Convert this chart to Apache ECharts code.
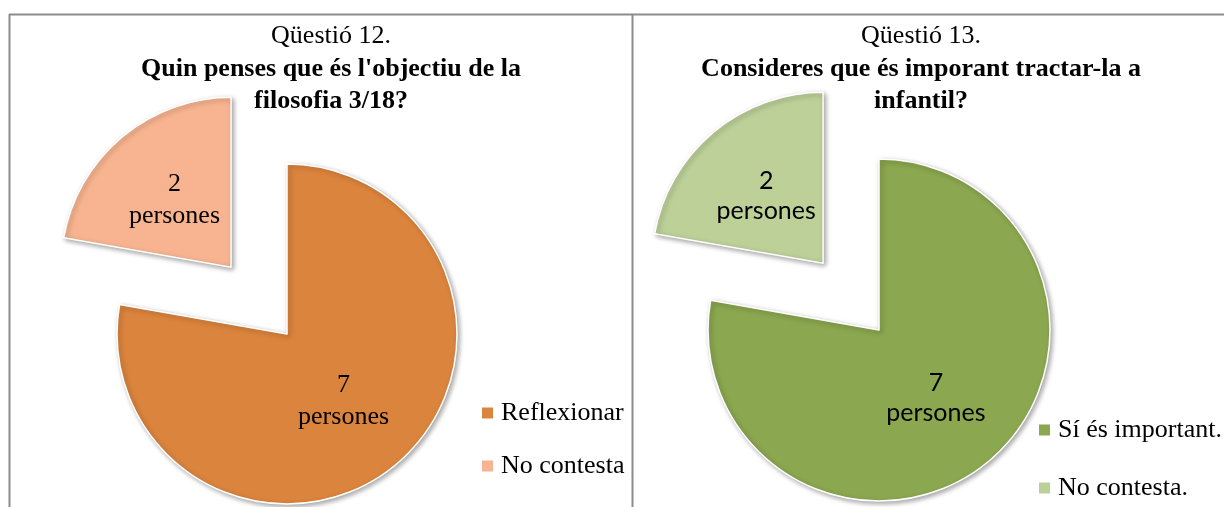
<!DOCTYPE html>
<html>
<head>
<meta charset="utf-8">
<script src="https://cdn.jsdelivr.net/npm/echarts@6/dist/echarts.min.js"></script>
<style>
  html, body { margin: 0; padding: 0; background: #fff; }
  #chart { width: 1224px; height: 507px; }
</style>
</head>
<body>
<div id="chart"></div>
<script>
// question 12
var q12Names = ['Reflexionar', 'No contesta'];
var q12Values = [7, 2];
var q12Labels = ['7\npersones', '2\npersones'];
var q12Colors = ['#DB843D', '#F8B490'];

// question 13
var q13Names = ['Sí és important.', 'No contesta.'];
var q13Values = [7, 2];
var q13Labels = ['7\npersones', '2\npersones'];
var q13Colors = ['#8BA74F', '#BCD098'];

var serif = '"Liberation Serif", "DejaVu Serif", serif';

function pieData(names, values, labels, colors) {
  return names.map(function (n, i) {
    return {
      name: n,
      value: values[i],
      selected: i === 1,
      label: { formatter: labels[i] },
      itemStyle: { color: colors[i] }
    };
  });
}

function titleText(head, l1, l2) {
  return '{n|' + head + '}\n{b|' + l1 + '}\n{b|' + l2 + '}';
}

var titleRich = {
  n: { fontFamily: serif, fontSize: 26, fontWeight: 'normal', color: '#000', lineHeight: 34 },
  b: { fontFamily: serif, fontSize: 26, fontWeight: 'bold', color: '#000', lineHeight: 32 }
};

var chart = echarts.init(document.getElementById('chart'));

var option = {
  animation: false,
  title: [
    {
      text: titleText('Qüestió 12.', "Quin penses que és l'objectiu de la", 'filosofia 3/18?'),
      left: 331, top: 19, textAlign: 'center', padding: 0,
      textStyle: { rich: titleRich }
    },
    {
      text: titleText('Qüestió 13.', 'Consideres que és imporant tractar-la a', 'infantil?'),
      left: 921, top: 19, textAlign: 'center', padding: 0,
      textStyle: { rich: titleRich }
    }
  ],
  legend: [
    {
      data: q12Names,
      orient: 'vertical',
      left: 480, top: 400, padding: 0,
      icon: 'rect', itemWidth: 13, itemHeight: 13, itemGap: 27,
      textStyle: { fontFamily: serif, fontSize: 26, lineHeight: 26, color: '#000', padding: [0, 0, 0, 2] }
    },
    {
      data: q13Names,
      orient: 'vertical',
      left: 1037, top: 417, padding: 0,
      icon: 'rect', itemWidth: 13, itemHeight: 13, itemGap: 32,
      textStyle: { fontFamily: serif, fontSize: 26, lineHeight: 26, color: '#000', padding: [0, 0, 0, 2] }
    }
  ],
  graphic: [
    { type: 'line', shape: { x1: 9, y1: 14.5, x2: 1224, y2: 14.5 }, style: { stroke: '#8c8c8c', lineWidth: 2 } },
    { type: 'line', shape: { x1: 9.5, y1: 14, x2: 9.5, y2: 507 }, style: { stroke: '#8c8c8c', lineWidth: 2 } },
    { type: 'line', shape: { x1: 632.5, y1: 14, x2: 632.5, y2: 507 }, style: { stroke: '#8c8c8c', lineWidth: 2 } }
  ],
  series: [
    {
      type: 'pie',
      center: [287, 334],
      radius: 170,
      startAngle: 90,
      selectedMode: 'multiple',
      selectedOffset: 87,
      data: pieData(q12Names, q12Values, q12Labels, q12Colors),
      label: {
        position: 'inside',
        fontFamily: serif, fontSize: 26, color: '#000', lineHeight: 32
      },
      labelLine: { show: false },
      itemStyle: {
        borderColor: '#fff', borderWidth: 1.5,
        shadowBlur: 5, shadowOffsetX: 2, shadowOffsetY: 2, shadowColor: 'rgba(0,0,0,0.35)'
      },
      emphasis: { disabled: true }
    },
    {
      type: 'pie',
      center: [879, 330],
      radius: 171,
      startAngle: 90,
      selectedMode: 'multiple',
      selectedOffset: 87,
      data: pieData(q13Names, q13Values, q13Labels, q13Colors),
      label: {
        position: 'inside',
        fontFamily: 'Lato, "Open Sans", sans-serif', fontSize: 25, color: '#000', lineHeight: 30
      },
      labelLine: { show: false },
      itemStyle: {
        borderColor: '#fff', borderWidth: 1.5,
        shadowBlur: 5, shadowOffsetX: 2, shadowOffsetY: 2, shadowColor: 'rgba(0,0,0,0.35)'
      },
      emphasis: { disabled: true }
    }
  ]
};

chart.setOption(option);
</script>
</body>
</html>
